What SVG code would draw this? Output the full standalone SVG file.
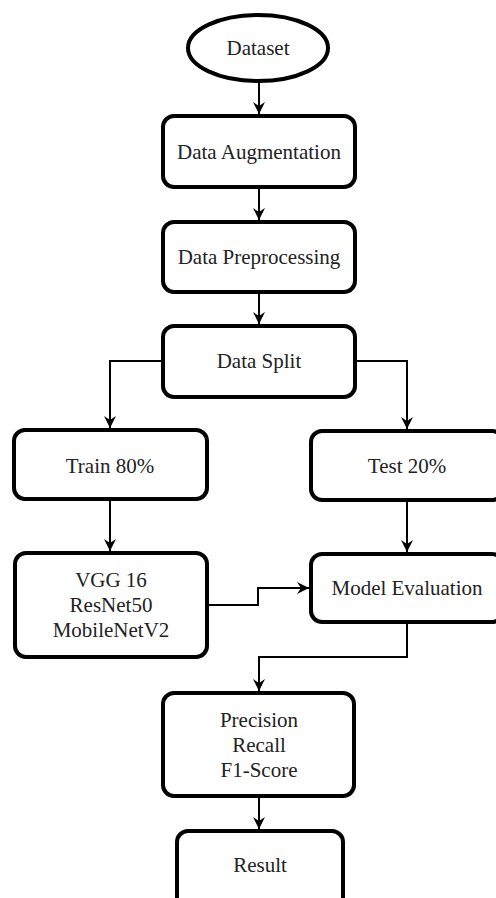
<svg xmlns="http://www.w3.org/2000/svg" width="496" height="898" viewBox="0 0 496 898">
<defs>
<style>
.n{fill:#fff;stroke:#000;stroke-width:4}
.t{font-family:"Liberation Serif","Times New Roman",serif;font-size:21px;fill:#222;text-anchor:middle}
.c{fill:none;stroke:#000;stroke-width:2}
</style>
<marker id="ah" markerUnits="userSpaceOnUse" markerWidth="14" markerHeight="14" viewBox="0 0 14 14" refX="13" refY="7" orient="auto">
<path d="M1,1 L13,7 L1,13 L5,7 Z" fill="#000"/>
</marker>
</defs>
<rect width="496" height="898" fill="#fff"/>
<g id="connectors">
<path class="c" d="M259,81 V114" marker-end="url(#ah)"/>
<path class="c" d="M259,189 V220" marker-end="url(#ah)"/>
<path class="c" d="M259,294 V324" marker-end="url(#ah)"/>
<path class="c" d="M161,361 H110 V428" marker-end="url(#ah)"/>
<path class="c" d="M357,361 H407 V429" marker-end="url(#ah)"/>
<path class="c" d="M110,501 V551" marker-end="url(#ah)"/>
<path class="c" d="M407,502 V552" marker-end="url(#ah)"/>
<path class="c" d="M209,605 H258 V588 H309" marker-end="url(#ah)"/>
<path class="c" d="M407,624 V657 H259 V691" marker-end="url(#ah)"/>
<path class="c" d="M259,798 V829" marker-end="url(#ah)"/>
</g>
<g id="dataset">
<ellipse class="n" cx="258" cy="48" rx="70" ry="33"/>
<text class="t" x="258" y="55">Dataset</text>
</g>
<g id="augmentation">
<rect class="n" x="163" y="116" width="192" height="71" rx="11"/>
<text class="t" x="259" y="159">Data Augmentation</text>
</g>
<g id="preprocessing">
<rect class="n" x="163" y="222" width="192" height="70" rx="11"/>
<text class="t" x="259" y="264">Data Preprocessing</text>
</g>
<g id="split">
<rect class="n" x="163" y="326" width="192" height="71" rx="11"/>
<text class="t" x="259" y="368">Data Split</text>
</g>
<g id="train">
<rect class="n" x="14" y="430" width="193" height="69" rx="11"/>
<text class="t" x="110" y="473">Train 80%</text>
</g>
<g id="test">
<rect class="n" x="311" y="431" width="192" height="69" rx="11"/>
<text class="t" x="407" y="473">Test 20%</text>
</g>
<g id="models">
<rect class="n" x="15" y="553" width="192" height="104" rx="11"/>
<text class="t" x="111" y="587">VGG 16</text>
<text class="t" x="111" y="612">ResNet50</text>
<text class="t" x="111" y="637">MobileNetV2</text>
</g>
<g id="evaluation">
<rect class="n" x="311" y="554" width="192" height="68" rx="11"/>
<text class="t" x="407" y="595">Model Evaluation</text>
</g>
<g id="metrics">
<rect class="n" x="163" y="693" width="191" height="103" rx="11"/>
<text class="t" x="259" y="727">Precision</text>
<text class="t" x="259" y="752">Recall</text>
<text class="t" x="259" y="777">F1-Score</text>
</g>
<g id="result">
<rect class="n" x="177" y="831" width="166" height="80" rx="11"/>
<text class="t" x="260" y="872">Result</text>
</g>
</svg>
